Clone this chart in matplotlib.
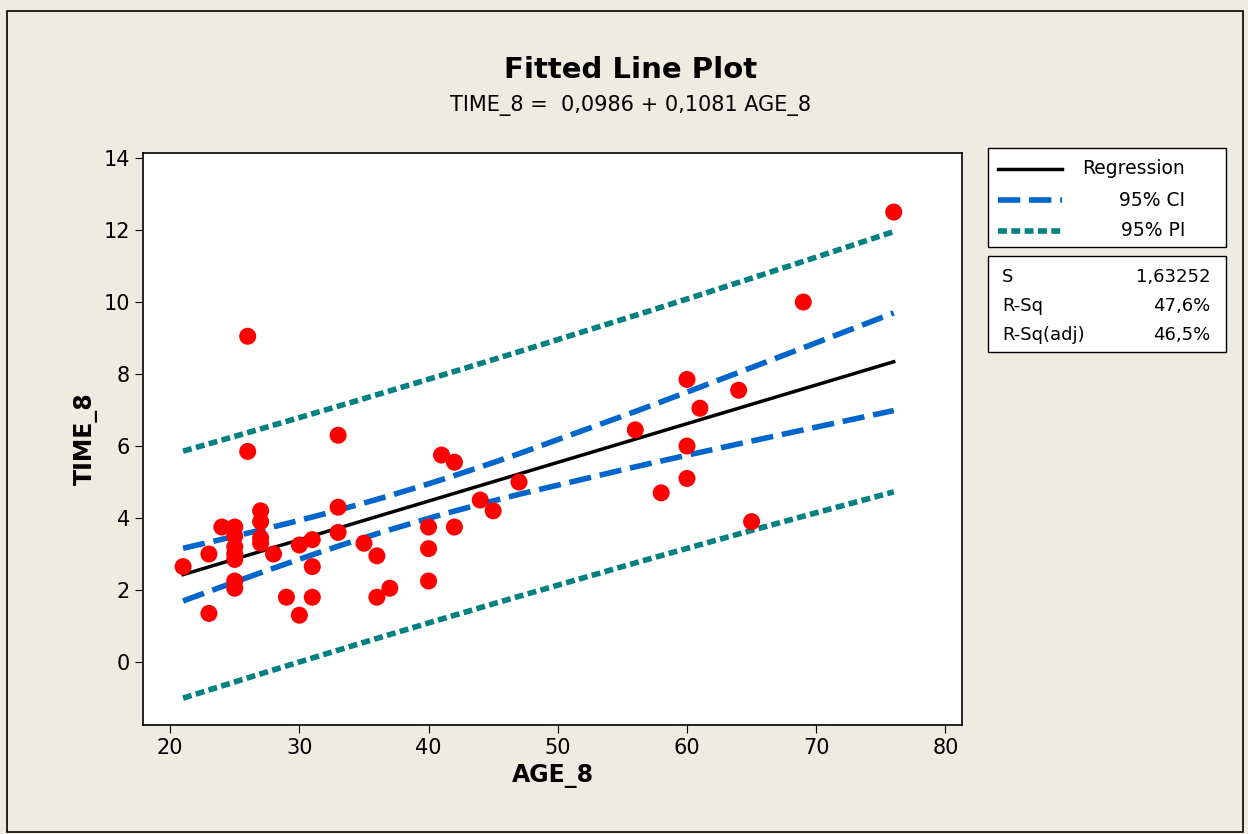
import numpy as np
import matplotlib
matplotlib.use("Agg")
import matplotlib.pyplot as plt
from matplotlib.patches import Rectangle
from matplotlib.lines import Line2D

age = [21,23,23,24,25,25,25,25,25,25,25,26,26,27,27,27,27,28,29,30,30,31,31,31,33,33,33,35,36,36,37,40,40,40,41,42,42,44,45,47,56,58,60,60,60,61,64,65,69,76]
time = [2.65,1.35,3.0,3.75,3.75,3.5,3.2,3.0,2.85,2.25,2.05,9.05,5.85,4.2,3.9,3.45,3.3,3.0,1.8,3.25,1.3,3.4,2.65,1.8,6.3,4.3,3.6,3.3,2.95,1.8,2.05,3.75,3.15,2.25,5.75,5.55,3.75,4.5,4.2,5.0,6.45,4.7,7.85,6.0,5.1,7.05,7.55,3.9,10.0,12.5]
stats_labels = ["S", "R-Sq", "R-Sq(adj)"]
stats_values = ["1,63252", "47,6%", "46,5%"]

x = np.array(age, float); y = np.array(time, float)
n = len(x)
b1, b0 = np.polyfit(x, y, 1)
res = y - (b0 + b1 * x)
s = np.sqrt(np.sum(res**2) / (n - 2))
t = 2.0106
xs = np.unique(x)
fit = b0 + b1 * xs
sxx = np.sum((x - x.mean())**2)
se_m = s * np.sqrt(1/n + (xs - x.mean())**2 / sxx)
se_p = s * np.sqrt(1 + 1/n + (xs - x.mean())**2 / sxx)

bg = "#EEEBE0"
fig = plt.figure(figsize=(12.48, 8.34), dpi=100, facecolor=bg)
fig.patches.append(Rectangle((0.006, 0.002), 0.99, 0.985, transform=fig.transFigure,
                             fill=False, edgecolor="black", lw=1.2))
ax = fig.add_axes([0.1146, 0.1307, 0.6564, 0.6858])
ax.set_facecolor("white")
teal = "#008080"; blue = "#0066CC"
ax.plot(xs, fit, color="black", lw=2.5)
ax.plot(xs, fit + t*se_m, color=blue, lw=4, dashes=(4, 1.6))
ax.plot(xs, fit - t*se_m, color=blue, lw=4, dashes=(4, 1.6))
ax.plot(xs, fit + t*se_p, color=teal, lw=4, dashes=(1.6, 0.8))
ax.plot(xs, fit - t*se_p, color=teal, lw=4, dashes=(1.6, 0.8))
ax.scatter(x, y, s=150, color="#FF0000", zorder=5, edgecolors="none")
ax.set_xlim(17.9, 81.3); ax.set_ylim(-1.75, 14.14)
ax.set_xticks(range(20, 81, 10)); ax.set_yticks(range(0, 15, 2))
ax.tick_params(labelsize=15, length=6, direction="out")
for sp in ax.spines.values():
    sp.set_linewidth(1.2)
ax.set_xlabel("AGE_8", fontsize=17, fontweight="bold")
ax.set_ylabel("TIME_8", fontsize=17, fontweight="bold")
fig.text(0.505, 0.916, "Fitted Line Plot", ha="center", va="center", fontsize=21, fontweight="bold")
fig.text(0.505, 0.873, "TIME_8 =  0,0986 + 0,1081 AGE_8", ha="center", va="center", fontsize=15)

W, H = 1248, 834
def fx(px): return px / W
def fy(py): return 1 - py / H
fig.patches.append(Rectangle((fx(988), fy(247)), fx(238), 99/H, transform=fig.transFigure,
                             facecolor="white", edgecolor="black", lw=1))
fig.patches.append(Rectangle((fx(988), fy(352)), fx(238), 96/H, transform=fig.transFigure,
                             facecolor="white", edgecolor="black", lw=1))
items = [("Regression", dict(color="black", lw=2.5)),
         ("95% CI", dict(color=blue, lw=4, dashes=(4, 1.6))),
         ("95% PI", dict(color=teal, lw=4, dashes=(1.6, 0.8)))]
for i, (lab, kw) in enumerate(items):
    yy = fy(169 + i * 31)
    fig.lines.append(Line2D([fx(998), fx(1062)], [yy, yy], transform=fig.transFigure, **kw))
    fig.text(fx(1185), yy, lab, ha="right", va="center", fontsize=13.5)
for i, (l, v) in enumerate(zip(stats_labels, stats_values)):
    yy = fy(277 + i * 29)
    fig.text(fx(1002), yy, l, ha="left", va="center", fontsize=13)
    fig.text(fx(1210), yy, v, ha="right", va="center", fontsize=13)
fig.savefig("out.png", dpi=100, facecolor=bg)
